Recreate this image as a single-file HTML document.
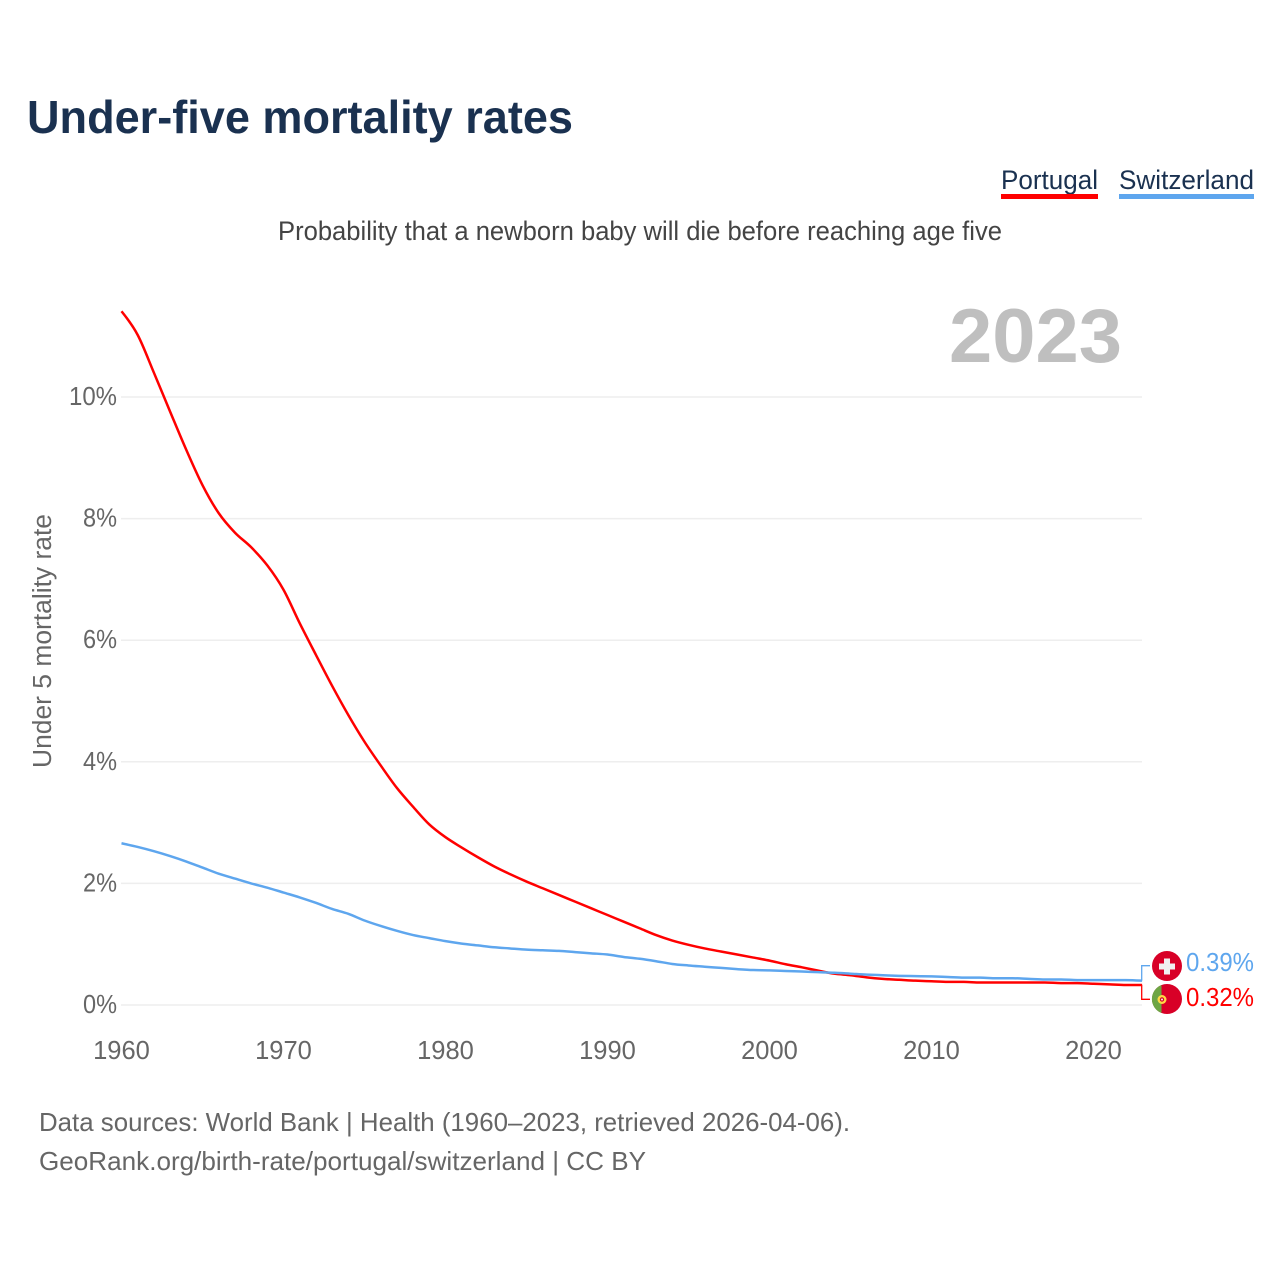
<!DOCTYPE html>
<html lang="en">
<head>
<meta charset="utf-8">
<title>Under-five mortality rates</title>
<style>
html,body{margin:0;padding:0;background:#fff;width:1280px;height:1280px;overflow:hidden}
svg{display:block;font-family:"Liberation Sans",sans-serif}
</style>
</head>
<body>
<svg id="chart" xmlns="http://www.w3.org/2000/svg" width="1280" height="1280" viewBox="0 0 1280 1280">
  <rect width="1280" height="1280" fill="#fff"/>
  <text x="27" y="133" font-size="46" font-weight="700" fill="#1a3150" textLength="546" lengthAdjust="spacingAndGlyphs">Under-five mortality rates</text>
  <g>
    <g>
      <text x="1001" y="189" font-size="27" fill="#1a3150" textLength="97" lengthAdjust="spacingAndGlyphs">Portugal</text>
      <rect x="1001" y="194" width="97" height="5" fill="#ff0000"/>
    </g>
    <g>
      <text x="1119" y="189" font-size="27" fill="#1a3150" textLength="135" lengthAdjust="spacingAndGlyphs">Switzerland</text>
      <rect x="1119" y="194" width="135" height="5" fill="#5ea6ee"/>
    </g>
  </g>
  <text x="278" y="240" font-size="27" fill="#444" textLength="724" lengthAdjust="spacingAndGlyphs">Probability that a newborn baby will die before reaching age five</text>
  <text x="949" y="362" font-size="76" font-weight="700" fill="#bfbfbf" textLength="173" lengthAdjust="spacingAndGlyphs">2023</text>
  <g id="grid"></g>
  <g id="yticks"></g>
  <g id="xticks"></g>
  <text transform="translate(51 768) rotate(-90)" font-size="25.5" fill="#666" textLength="254" lengthAdjust="spacingAndGlyphs">Under 5 mortality rate</text>
  <g id="series"></g>
  <g id="ends"></g>
  <g>
    <circle cx="1167" cy="966" r="15" fill="#d80027"/>
    <rect x="1164" y="958.5" width="6" height="16" fill="#f0f0f0"/>
    <rect x="1159" y="963.5" width="16" height="6" fill="#f0f0f0"/>
  </g>
  <g>
    <circle cx="1167" cy="999" r="15" fill="#d80027"/>
    <path d="M1161.5 985A15 15 0 0 0 1161.5 1013Z" fill="#6da544"/>
    <circle cx="1162" cy="999.5" r="4.5" fill="#ffda44"/>
    <circle cx="1162" cy="999.5" r="2.2" fill="#d80027"/>
    <circle cx="1162" cy="999.5" r="1" fill="#f0f0f0"/>
  </g>
  <text x="39" y="1131" font-size="26" fill="#666" textLength="811" lengthAdjust="spacingAndGlyphs">Data sources: World Bank | Health (1960–2023, retrieved 2026-04-06).</text>
  <text x="39" y="1170" font-size="26" fill="#666" textLength="607" lengthAdjust="spacingAndGlyphs">GeoRank.org/birth-rate/portugal/switzerland | CC BY</text>
</svg>
<script>
var startYear = 1960;
var portugal = [11.41,11.02,10.40,9.76,9.13,8.55,8.09,7.77,7.53,7.23,6.83,6.28,5.76,5.25,4.77,4.33,3.94,3.57,3.26,2.97,2.76,2.59,2.43,2.28,2.15,2.03,1.92,1.81,1.70,1.59,1.48,1.37,1.26,1.15,1.06,0.99,0.93,0.88,0.83,0.78,0.73,0.67,0.62,0.565,0.515,0.49,0.455,0.43,0.415,0.40,0.39,0.38,0.38,0.37,0.37,0.37,0.37,0.37,0.36,0.36,0.35,0.34,0.33,0.33];
var switzerland = [2.66,2.60,2.53,2.45,2.36,2.26,2.16,2.08,2.00,1.93,1.85,1.77,1.68,1.58,1.50,1.39,1.30,1.22,1.15,1.10,1.05,1.01,0.98,0.95,0.93,0.91,0.90,0.89,0.87,0.85,0.83,0.79,0.76,0.72,0.675,0.65,0.63,0.61,0.59,0.575,0.57,0.56,0.55,0.54,0.53,0.515,0.50,0.49,0.48,0.475,0.47,0.46,0.45,0.45,0.44,0.44,0.43,0.42,0.42,0.41,0.41,0.41,0.41,0.40];
var yTicks = [0,2,4,6,8,10];
var xTicks = [1960,1970,1980,1990,2000,2010,2020];
var endLabels = ["0.39%","0.32%"];

var NS = "http://www.w3.org/2000/svg";
function xScale(year){ return 121.5 + (year - 1960) * 16.2; }
function yScale(v){ return 1005 - v * 60.8; }
function make(tag, parent, attrs){
  var el = document.createElementNS(NS, tag);
  for (var k in attrs) el.setAttribute(k, attrs[k]);
  parent.appendChild(el);
  return el;
}
var gridG = document.getElementById("grid");
var yG = document.getElementById("yticks");
var xG = document.getElementById("xticks");
var seriesG = document.getElementById("series");
var endsG = document.getElementById("ends");

yTicks.forEach(function(v){
  var line = make("line", gridG, {x1:121, x2:1142, y1:yScale(v), y2:yScale(v), stroke:"#eeeeee", "stroke-width":1.5});
  
  
  var s = v + "%";
  var t = make("text", yG, {x:117, y:yScale(v)+8, "text-anchor":"end", "font-size":25.5, fill:"#666", textLength:s.length === 3 ? 48 : 34, lengthAdjust:"spacingAndGlyphs"});
  
  
  t.textContent = s;
});
xTicks.forEach(function(y){
  var t = make("text", xG, {x:xScale(y), y:1059, "text-anchor":"middle", "font-size":25.5, fill:"#666"});
  
  
  t.textContent = y;
});
function sgn(n){ return n < 0 ? -1 : 1; }
function linePath(values){
  var pts = values.map(function(v,i){ return [xScale(startYear+i), yScale(v)]; });
  var n = pts.length, tang = [], i;
  for (i = 1; i < n - 1; i++) {
    var h0 = pts[i][0]-pts[i-1][0], h1 = pts[i+1][0]-pts[i][0];
    var s0 = (pts[i][1]-pts[i-1][1])/h0, s1 = (pts[i+1][1]-pts[i][1])/h1;
    var p = (s0*h1+s1*h0)/(h0+h1);
    tang[i] = (sgn(s0)+sgn(s1))*Math.min(Math.abs(s0),Math.abs(s1),0.5*Math.abs(p));
  }
  tang[0] = (3*(pts[1][1]-pts[0][1])/(pts[1][0]-pts[0][0]) - tang[1])/2;
  tang[n-1] = (3*(pts[n-1][1]-pts[n-2][1])/(pts[n-1][0]-pts[n-2][0]) - tang[n-2])/2;
  var d = "M" + pts[0][0].toFixed(2) + " " + pts[0][1].toFixed(2);
  for (i = 0; i < n - 1; i++) {
    var dx = (pts[i+1][0]-pts[i][0])/3;
    d += "C" + (pts[i][0]+dx).toFixed(2) + " " + (pts[i][1]+dx*tang[i]).toFixed(2) + " " + (pts[i+1][0]-dx).toFixed(2) + " " + (pts[i+1][1]-dx*tang[i+1]).toFixed(2) + " " + pts[i+1][0].toFixed(2) + " " + pts[i+1][1].toFixed(2);
  }
  return d;
}
var lineP = make("path", seriesG, {d:linePath(portugal), fill:"none", stroke:"#ff0000", "stroke-width":2.5, "stroke-linejoin":"round"});


var lineS = make("path", seriesG, {d:linePath(switzerland), fill:"none", stroke:"#5ea6ee", "stroke-width":2.5, "stroke-linejoin":"round"});



var lastX = xScale(startYear + portugal.length - 1) - 0.4;
var connS = make("polyline", endsG, {points:lastX+","+yScale(switzerland[switzerland.length-1])+" "+lastX+",965.7 1150,965.7", fill:"none", stroke:"#5ea6ee", "stroke-width":1.3});


var connP = make("polyline", endsG, {points:lastX+","+yScale(portugal[portugal.length-1])+" "+lastX+",999.3 1150,999.3", fill:"none", stroke:"#ff0000", "stroke-width":1.3});


var labS = make("text", endsG, {x:1186, y:971, "font-size":26, fill:"#5ea6ee", textLength:68, lengthAdjust:"spacingAndGlyphs"});


labS.textContent = endLabels[0];
var labP = make("text", endsG, {x:1186, y:1006, "font-size":26, fill:"#ff0000", textLength:68, lengthAdjust:"spacingAndGlyphs"});


labP.textContent = endLabels[1];
</script>
</body>
</html>
